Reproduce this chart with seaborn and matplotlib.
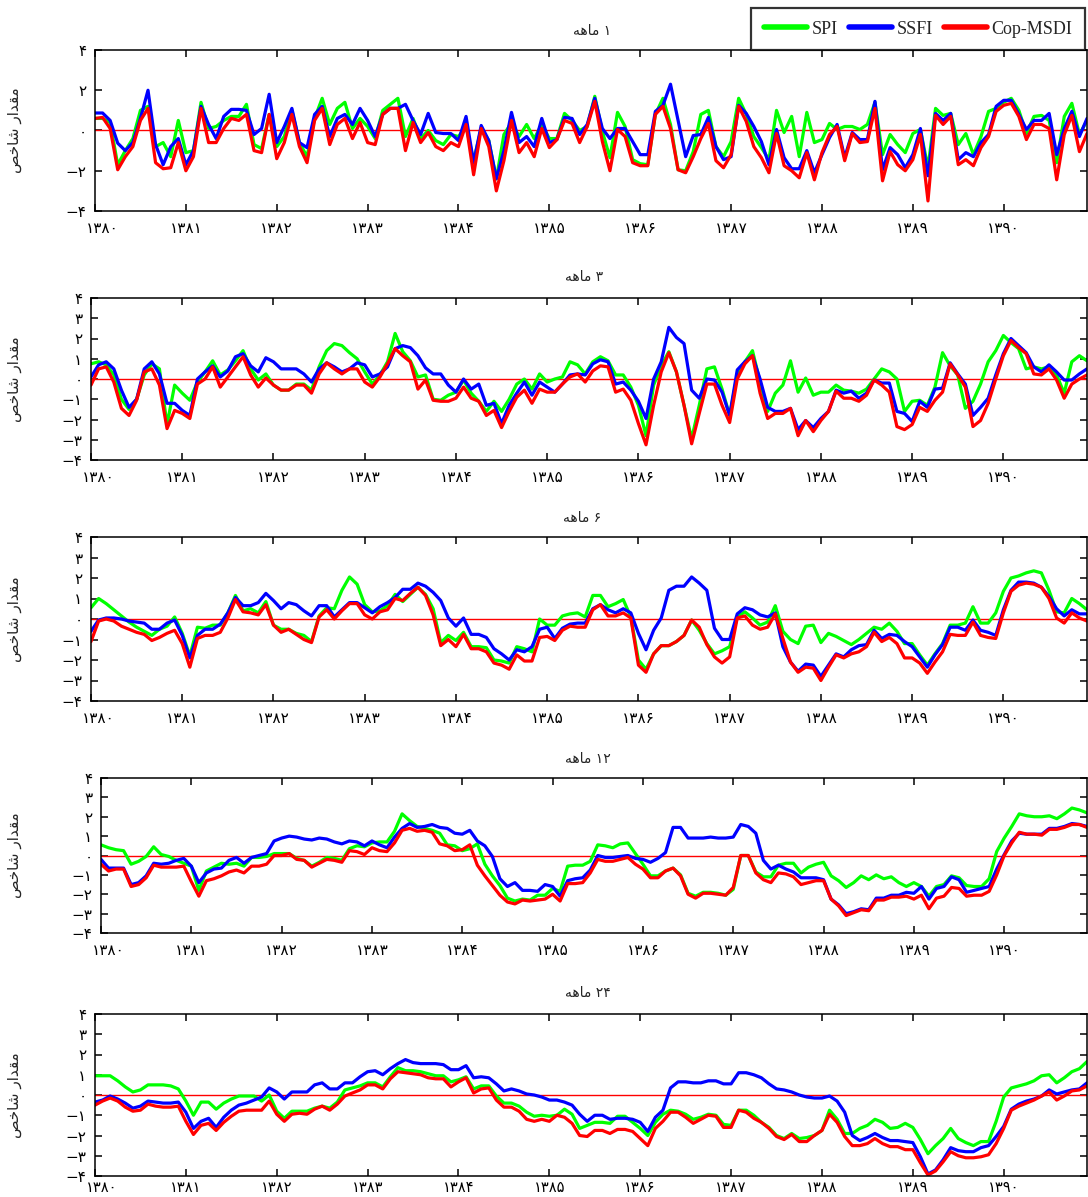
import matplotlib
matplotlib.use("Agg")
import matplotlib.pyplot as plt
from matplotlib.lines import Line2D
from matplotlib.transforms import ScaledTranslation
import numpy as np
import pandas as pd
import seaborn as sns

# ---------------- data (monthly, 1380/01 .. 1390/12 -> 132 values) ----------------
start_year = 1380
year_ticks = list(range(1380, 1391))
series_names = ["SPI", "SSFI", "Cop-MSDI"]
series_colors = ["#00ff00", "#0000ff", "#ff0000"]
panel_titles_num = ["۱", "۳", "۶", "۱۲", "۲۴"]

spi_1 = [0.6, 0.6, 0.4, -1.7, -1.0, -0.4, 1.0, 1.2, -0.8, -0.6,
         -1.3, 0.5, -1.1, -1.0, 1.4, 0.1, 0.2, 0.5, 0.7, 0.7,
         1.3, -0.7, -0.9, 0.8, -0.8, -0.3, 1.0, -0.6, -1.3, 0.6,
         1.6, 0.3, 1.1, 1.4, 0.1, 0.6, 0.2, -0.4, 1.0, 1.3,
         1.6, -0.3, 0.6, -0.4, 0.0, -0.5, -0.7, -0.2, -0.3, 0.2,
         -1.5, 0.1, -0.5, -2.4, -0.2, 0.4, -0.3, 0.3, -0.4, 0.3,
         -0.4, -0.4, 0.85, 0.5, 0.0, 0.2, 1.7, -0.05, -1.35, 0.9,
         0.2, -1.45, -1.65, -1.7, 0.8, 1.6, 0.3, -1.95, -2.0, -1.05,
         0.8, 1.0, -0.8, -1.3, -0.55, 1.6, 0.8, -0.3, -0.85, -1.45,
         1.0, -0.1, 0.7, -1.3, 0.9, -0.6, -0.45, 0.35,
         0.05, 0.2, 0.2, 0.05, 0.3, 1.4, -1.2, -0.2, -0.7, -1.1,
         -0.15, 0.05, -1.85, 1.1, 0.75, 0.85, -0.7, -0.15, -1.2, -0.3,
         0.95, 1.1, 1.4, 1.6, 1.0, -0.15, 0.7, 0.75, 0.5, -1.6,
         0.7, 1.35, -0.2, 0.5]
ssfi_1 = [0.87, 0.87, 0.5, -0.63, -1.0, -0.6, 0.6, 2.0, -0.7, -1.7,
          -0.8, -0.4, -1.7, -1.0, 1.2, 0.3, -0.4, 0.7, 1.05, 1.05,
          1.0, -0.2, 0.1, 1.8, -0.6, 0.2, 1.1, -0.6, -0.85, 0.8,
          1.2, -0.3, 0.6, 0.8, 0.3, 1.1, 0.5, -0.3, 0.8, 1.1,
          1.1, 1.3, 0.5, -0.2, 0.85, -0.1, -0.15, -0.15, -0.5, 0.7,
          -1.6, 0.25, -0.5, -2.4, -1.0, 0.9, -0.6, -0.3, -0.8, 0.6,
          -0.6, -0.45, 0.65, 0.6, -0.2, 0.3, 1.6, 0.1, -0.4, 0.1,
          0.1, -0.55, -1.2, -1.2, 0.95, 1.25, 2.3, 0.5, -1.3, -0.25,
          -0.2, 0.65, -0.8, -1.45, -1.3, 1.25, 0.85, 0.2, -0.55, -1.7,
          0.05, -1.35, -1.9, -1.9, -1.0, -2.1, -1.2, -0.35,
          0.3, -1.35, -0.1, -0.45, -0.45, 1.45, -1.95, -0.85, -1.2, -1.85,
          -1.2, 0.1, -2.25, 0.85, 0.5, 0.85, -1.45, -1.1, -1.3, -0.6,
          -0.2, 1.2, 1.5, 1.5, 0.8, 0.05, 0.5, 0.5, 0.85, -1.2,
          0.1, 0.95, -0.3, 0.6]
msdi_1 = [0.6, 0.65, 0.1, -1.95, -1.3, -0.8, 0.5, 1.1, -1.6, -1.9,
          -1.85, -0.6, -2.0, -1.3, 1.1, -0.6, -0.6, 0.1, 0.6, 0.5,
          0.8, -1.0, -1.1, 0.8, -1.4, -0.6, 0.8, -0.8, -1.6, 0.5,
          1.1, -0.7, 0.3, 0.6, -0.4, 0.4, -0.6, -0.7, 0.8, 1.1,
          1.1, -1.0, 0.4, -0.6, -0.1, -0.8, -1.0, -0.6, -0.8, 0.3,
          -2.2, 0.1, -0.8, -3.0, -1.5, 0.5, -1.1, -0.6, -1.3, 0.1,
          -0.85, -0.45, 0.5, 0.35, -0.6, 0.2, 1.45, -0.55, -2.0, 0.05,
          -0.3, -1.6, -1.75, -1.75, 0.8, 1.2, 0.1, -1.95, -2.1, -1.3,
          -0.4, 0.35, -1.5, -1.85, -1.2, 1.2, 0.45, -0.8, -1.35, -2.1,
          -0.15, -1.75, -2.0, -2.35, -1.1, -2.45, -1.1, -0.2,
          0.2, -1.5, -0.15, -0.6, -0.55, 1.1, -2.5, -1.05, -1.7, -2.0,
          -1.45, -0.2, -3.5, 0.75, 0.3, 0.7, -1.7, -1.45, -1.75, -0.85,
          -0.3, 0.95, 1.25, 1.35, 0.7, -0.45, 0.3, 0.3, 0.1, -2.45,
          -0.2, 0.75, -1.05, -0.15]

spi_3 = [0.75, 0.85, 0.7, 0.2, -1.0, -1.5, -1.0, 0.2, 0.75, 0.5,
         -2.25, -0.3, -0.7, -1.05, -0.15, 0.35, 0.9, 0.2, 0.45, 0.9,
         1.4, 0.5, -0.05, 0.25, -0.3, -0.55, -0.55, -0.25, -0.25, -0.55,
         0.6, 1.4, 1.75, 1.65, 1.3, 1.0, 0.35, -0.25, 0.2, 0.85,
         2.25, 1.35, 0.9, 0.1, 0.2, -1.0, -1.05, -0.8, -0.65, -0.05,
         -0.7, -1.1, -1.6, -1.1, -1.6, -1.0, -0.25, 0.0, -0.5, 0.25,
         -0.15, 0.0, 0.1, 0.85, 0.7, 0.25, 0.85, 1.1, 0.9, 0.2,
         0.2, -0.4, -1.3, -2.8, -0.3, 0.65, 1.35, 0.35, -1.3, -2.95,
         -1.3, 0.5, 0.6, -0.5, -1.8, 0.2, 0.85, 1.4, -0.15, -1.6,
         -0.7, -0.3, 0.9, -0.65, 0.05, -0.8, -0.65, -0.65, -0.3, -0.55,
         -0.6, -0.7, -0.5, 0.0, 0.5, 0.35, 0.0, -1.6, -1.1, -1.05,
         -1.3, -0.4, 1.3, 0.65, 0.2, -1.45, -1.1, -0.25, 0.85, 1.4,
         2.15, 1.8, 1.5, 0.5, 0.6, 0.5, 0.6, 0.2, -0.7, 0.85, 1.15, 0.9]
ssfi_3 = [0.1, 0.7, 0.85, 0.5, -0.55, -1.4, -1.0, 0.5, 0.85, 0.25,
          -1.2, -1.2, -1.55, -1.8, 0.0, 0.35, 0.65, 0.1, 0.4, 1.1,
          1.25, 0.65, 0.35, 1.05, 0.85, 0.5, 0.5, 0.5, 0.25, -0.15,
          0.5, 0.8, 0.6, 0.35, 0.5, 0.8, 0.7, 0.1, 0.25, 0.6,
          1.5, 1.65, 1.55, 1.15, 0.55, 0.25, 0.25, -0.3, -0.65, 0.0,
          -0.5, -0.25, -1.3, -1.2, -2.2, -1.3, -0.7, -0.15, -0.8, -0.15,
          -0.4, -0.65, -0.25, 0.2, 0.25, 0.2, 0.75, 0.95, 0.85, -0.25,
          -0.15, -0.55, -1.1, -1.95, 0.0, 0.85, 2.55, 2.05, 1.75, -0.55,
          -0.95, 0.0, -0.05, -0.65, -1.8, 0.45, 0.85, 1.15, 0.0, -1.4,
          -1.6, -1.6, -1.45, -2.5, -2.05, -2.4, -1.95, -1.6, -0.55, -0.7,
          -0.6, -0.95, -0.7, -0.05, -0.2, -0.2, -1.6, -1.7, -2.1, -1.1,
          -1.4, -0.5, -0.45, 0.8, 0.25, -0.25, -1.8, -1.4, -0.95, 0.2,
          1.25, 2.0, 1.65, 1.3, 0.6, 0.35, 0.7, 0.35, -0.05, -0.05, 0.25, 0.5]
msdi_3 = [-0.3, 0.5, 0.6, -0.15, -1.45, -1.8, -1.05, 0.35, 0.5, -0.3,
          -2.45, -1.55, -1.7, -1.95, -0.25, 0.0, 0.6, -0.4, 0.1, 0.6,
          1.1, 0.2, -0.4, 0.05, -0.3, -0.55, -0.55, -0.3, -0.3, -0.7,
          0.25, 0.8, 0.5, 0.25, 0.5, 0.5, -0.15, -0.4, 0.1, 0.75,
          1.5, 1.15, 0.85, -0.5, -0.05, -1.05, -1.1, -1.1, -0.95, -0.4,
          -0.95, -1.1, -1.8, -1.55, -2.4, -1.6, -0.9, -0.55, -1.2, -0.5,
          -0.65, -0.65, -0.25, 0.1, 0.25, -0.15, 0.4, 0.65, 0.6, -0.65,
          -0.5, -1.05, -2.2, -3.25, -1.3, 0.35, 1.3, 0.35, -1.3, -3.2,
          -1.7, -0.25, -0.25, -1.3, -2.15, 0.0, 0.75, 1.15, -0.7, -1.95,
          -1.7, -1.7, -1.45, -2.8, -2.05, -2.6, -2.05, -1.6, -0.6, -0.95,
          -0.95, -1.1, -0.8, -0.05, -0.3, -0.65, -2.35, -2.5, -2.25, -1.4,
          -1.6, -1.05, -0.65, 0.75, 0.2, -0.4, -2.35, -2.05, -1.2, 0.0,
          1.15, 1.9, 1.55, 1.25, 0.25, 0.2, 0.5, -0.05, -0.95, -0.25, 0.0, 0.2]

spi_6 = [0.55, 1.0, 0.75, 0.45, 0.15, -0.15, -0.4, -0.6, -0.8, -0.5,
         -0.35, 0.1, -0.7, -1.8, -0.4, -0.45, -0.3, -0.3, 0.3, 1.15,
         0.4, 0.5, 0.3, 0.85, -0.3, -0.5, -0.5, -0.7, -0.8, -1.1,
         0.15, 0.55, 0.5, 1.4, 2.05, 1.7, 0.7, 0.35, 0.4, 0.65,
         1.2, 0.85, 1.2, 1.55, 1.2, 0.5, -1.15, -0.8, -1.05, -0.65,
         -1.35, -1.35, -1.4, -2.0, -2.05, -2.15, -1.35, -1.45, -1.6, 0.0,
         -0.3, -0.3, 0.15, 0.25, 0.3, 0.1, 1.15, 1.15, 0.6, 0.75,
         0.95, 0.1, -2.0, -2.45, -1.7, -1.3, -1.3, -1.1, -0.8, -0.05,
         -0.55, -1.2, -1.7, -1.55, -1.35, 0.1, 0.35, 0.05, -0.3, -0.15,
         0.65, -0.6, -1.0, -1.2, -0.35, -0.3, -1.15, -0.7, -0.85, -1.05,
         -1.25, -1.0, -0.7, -0.4, -0.5, -0.2, -0.6, -1.2, -1.2, -1.75,
         -2.25, -1.7, -1.2, -0.3, -0.3, -0.2, 0.6, -0.2, -0.2, 0.3,
         1.35, 2.0, 2.1, 2.25, 2.35, 2.25, 1.4, 0.35, 0.3, 1.0, 0.75, 0.45]
ssfi_6 = [-0.6, -0.05, 0.05, 0.05, 0.0, -0.1, -0.15, -0.2, -0.5, -0.5,
          -0.2, -0.05, -0.8, -1.9, -0.8, -0.5, -0.5, -0.25, 0.3, 1.05,
          0.65, 0.65, 0.8, 1.25, 0.9, 0.5, 0.8, 0.7, 0.4, 0.15,
          0.65, 0.65, 0.1, 0.45, 0.8, 0.8, 0.55, 0.3, 0.6, 0.8,
          1.05, 1.45, 1.45, 1.75, 1.6, 1.3, 0.9, 0.05, -0.35, 0.05,
          -0.75, -0.75, -0.9, -1.45, -1.7, -2.0, -1.5, -1.6, -1.35, -0.5,
          -0.4, -0.95, -0.45, -0.25, -0.2, -0.2, 0.5, 0.7, 0.45, 0.3,
          0.5, 0.3, -0.7, -1.5, -0.55, 0.05, 1.4, 1.6, 1.6, 2.05,
          1.75, 1.4, -0.45, -1.0, -1.0, 0.25, 0.55, 0.45, 0.2, 0.1,
          0.3, -1.35, -2.1, -2.55, -2.2, -2.25, -2.8, -2.25, -1.7, -1.85,
          -1.5, -1.3, -1.25, -0.55, -0.95, -0.75, -0.8, -1.1, -1.35, -1.85,
          -2.35, -1.75, -1.25, -0.4, -0.4, -0.55, -0.05, -0.55, -0.65, -0.8,
          0.45, 1.4, 1.8, 1.8, 1.75, 1.55, 1.1, 0.5, 0.15, 0.45, 0.25, 0.25]
msdi_6 = [-1.1, -0.1, 0.0, -0.1, -0.35, -0.5, -0.65, -0.75, -1.05, -0.9,
          -0.7, -0.55, -1.2, -2.35, -0.95, -0.8, -0.8, -0.65, 0.05, 0.95,
          0.35, 0.3, 0.2, 0.7, -0.3, -0.65, -0.5, -0.75, -1.0, -1.15,
          0.1, 0.45, 0.0, 0.4, 0.75, 0.75, 0.2, 0.0, 0.35, 0.45,
          1.0, 0.9, 1.25, 1.55, 1.15, 0.2, -1.3, -1.0, -1.35, -0.75,
          -1.45, -1.45, -1.6, -2.15, -2.25, -2.45, -1.75, -2.05, -2.05, -0.9,
          -0.85, -1.05, -0.55, -0.35, -0.4, -0.4, 0.45, 0.7, 0.15, 0.15,
          0.3, 0.05, -2.25, -2.6, -1.7, -1.3, -1.3, -1.1, -0.8, -0.05,
          -0.4, -1.25, -1.85, -2.15, -1.85, 0.05, 0.15, -0.3, -0.5, -0.4,
          0.25, -0.95, -2.1, -2.6, -2.35, -2.4, -3.0, -2.35, -1.75, -1.9,
          -1.7, -1.6, -1.35, -0.65, -1.1, -0.9, -1.2, -1.9, -1.9, -2.15,
          -2.65, -2.1, -1.6, -0.75, -0.8, -0.8, -0.15, -0.8, -0.9, -0.95,
          0.3, 1.35, 1.65, 1.75, 1.7, 1.55, 1.0, 0.05, -0.2, 0.3, 0.05, -0.1]

spi_12 = [0.55, 0.4, 0.3, 0.25, -0.45, -0.3, -0.05, 0.45, 0.05, -0.05,
          -0.25, -0.4, -0.55, -1.8, -0.8, -0.6, -0.4, -0.45, -0.4, -0.55,
          -0.1, -0.1, -0.05, 0.1, 0.1, 0.1, -0.15, -0.25, -0.55, -0.35,
          -0.1, -0.15, -0.25, 0.35, 0.5, 0.45, 0.65, 0.7, 0.7, 1.25,
          2.15, 1.8, 1.5, 1.4, 1.3, 1.15, 0.55, 0.5, 0.25, 0.35,
          0.6, -0.45, -1.05, -1.55, -2.2, -2.35, -2.25, -2.3, -2.05, -2.05,
          -1.7, -1.85, -0.55, -0.5, -0.5, -0.3, 0.55, 0.5, 0.4, 0.6,
          0.65, 0.1, -0.45, -1.05, -1.05, -0.8, -0.65, -1.0, -1.95, -2.1,
          -1.9, -1.9, -1.95, -2.05, -1.75, 0.0, 0.0, -0.85, -1.1, -1.1,
          -0.5, -0.4, -0.4, -0.9, -0.6, -0.45, -0.35, -1.05, -1.3, -1.65,
          -1.4, -1.05, -1.25, -1.0, -1.2, -1.1, -1.4, -1.6, -1.4, -1.6,
          -2.1, -1.6, -1.5, -1.05, -1.15, -1.55, -1.6, -1.6, -1.2, 0.2,
          0.9, 1.5, 2.15, 2.05, 2.0, 2.0, 2.05, 1.9, 2.15, 2.45, 2.35, 2.2]
ssfi_12 = [-0.2, -0.65, -0.65, -0.65, -1.5, -1.4, -1.05, -0.4, -0.45, -0.4,
           -0.25, -0.15, -0.55, -1.4, -0.9, -0.7, -0.65, -0.25, -0.1, -0.4,
           -0.1, 0.0, 0.1, 0.75, 0.9, 1.0, 0.95, 0.85, 0.8, 0.9,
           0.85, 0.7, 0.6, 0.75, 0.7, 0.5, 0.75, 0.55, 0.4, 0.95,
           1.4, 1.65, 1.45, 1.5, 1.6, 1.45, 1.4, 1.15, 1.1, 1.3,
           0.75, 0.5, -0.05, -1.2, -1.6, -1.4, -1.8, -1.8, -1.85, -1.5,
           -1.6, -2.1, -1.3, -1.2, -1.15, -0.75, 0.0, -0.1, -0.1, -0.05,
           0.0, -0.15, -0.2, -0.35, -0.15, 0.15, 1.45, 1.45, 0.9, 0.9,
           0.9, 0.95, 0.9, 0.9, 0.95, 1.6, 1.5, 1.15, -0.25, -0.7,
           -0.5, -0.7, -0.85, -1.15, -1.15, -1.15, -1.25, -2.25, -2.55, -3.0,
           -2.9, -2.75, -2.8, -2.2, -2.2, -2.05, -2.05, -1.9, -1.95, -1.6,
           -2.25, -1.7, -1.6, -1.1, -1.25, -1.9, -1.8, -1.7, -1.6, -0.7,
           0.05, 0.75, 1.15, 1.1, 1.1, 1.1, 1.4, 1.4, 1.5, 1.65, 1.6, 1.5]
msdi_12 = [-0.45, -0.8, -0.7, -0.7, -1.6, -1.5, -1.15, -0.5, -0.6, -0.6,
           -0.6, -0.55, -1.35, -2.1, -1.3, -1.2, -1.05, -0.85, -0.75, -0.9,
           -0.55, -0.55, -0.45, 0.0, 0.0, 0.1, -0.2, -0.25, -0.6, -0.4,
           -0.2, -0.25, -0.35, 0.25, 0.2, 0.05, 0.4, 0.25, 0.2, 0.65,
           1.3, 1.4, 1.25, 1.3, 1.2, 0.6, 0.5, 0.25, 0.3, 0.55,
           -0.5, -1.05, -1.55, -2.05, -2.4, -2.5, -2.3, -2.35, -2.3, -2.25,
           -2.0, -2.35, -1.45, -1.45, -1.4, -0.9, -0.2, -0.3, -0.3, -0.2,
           -0.1, -0.45, -0.7, -1.15, -1.15, -0.8, -0.65, -1.05, -2.0, -2.2,
           -1.95, -1.95, -2.0, -2.05, -1.65, 0.0, 0.0, -0.9, -1.25, -1.4,
           -0.9, -0.95, -1.1, -1.5, -1.4, -1.3, -1.3, -2.25, -2.6, -3.1,
           -2.95, -2.8, -2.85, -2.3, -2.3, -2.15, -2.15, -2.1, -2.25, -2.05,
           -2.75, -2.2, -2.1, -1.65, -1.7, -2.1, -2.05, -2.05, -1.85, -1.0,
           0.0, 0.65, 1.2, 1.1, 1.1, 1.05, 1.35, 1.35, 1.45, 1.6, 1.6, 1.45]

spi_24 = [0.95, 0.95, 0.95, 0.7, 0.4, 0.15, 0.25, 0.5, 0.5, 0.5,
          0.45, 0.3, -0.3, -1.0, -0.35, -0.35, -0.7, -0.4, -0.2, -0.05,
          -0.05, -0.05, -0.3, 0.0, -0.8, -1.15, -0.8, -0.8, -0.8, -0.65,
          -0.55, -0.65, -0.35, 0.25, 0.35, 0.45, 0.6, 0.6, 0.4, 0.9,
          1.35, 1.2, 1.2, 1.15, 1.05, 0.95, 0.95, 0.65, 0.75, 0.9,
          0.3, 0.45, 0.45, -0.05, -0.4, -0.4, -0.55, -0.85, -1.05, -1.0,
          -1.05, -1.0, -0.7, -0.95, -1.65, -1.5, -1.35, -1.35, -1.4, -1.05,
          -1.05, -1.35, -1.65, -2.0, -1.35, -0.95, -0.75, -0.8, -0.95, -1.2,
          -1.1, -0.95, -1.0, -1.45, -1.5, -0.75, -0.75, -1.0, -1.35, -1.6,
          -2.0, -2.15, -1.9, -2.15, -2.1, -2.0, -1.75, -0.75, -1.2, -1.9,
          -1.9, -1.65, -1.5, -1.2, -1.35, -1.65, -1.6, -1.4, -1.6, -2.2,
          -2.9, -2.5, -2.15, -1.65, -2.15, -2.35, -2.5, -2.3, -2.3, -1.3,
          -0.1, 0.35, 0.45, 0.55, 0.7, 0.95, 1.0, 0.6, 0.85, 1.15, 1.3, 1.65]
ssfi_24 = [-0.35, -0.25, -0.05, -0.2, -0.4, -0.65, -0.55, -0.3, -0.35, -0.4,
           -0.4, -0.35, -0.85, -1.65, -1.3, -1.15, -1.6, -1.1, -0.75, -0.5,
           -0.4, -0.25, -0.1, 0.35, 0.15, -0.2, 0.15, 0.15, 0.15, 0.5,
           0.6, 0.3, 0.3, 0.6, 0.6, 0.9, 1.15, 1.2, 1.0, 1.3,
           1.55, 1.75, 1.6, 1.55, 1.55, 1.55, 1.5, 1.25, 1.25, 1.45,
           0.85, 0.9, 0.85, 0.55, 0.2, 0.3, 0.2, 0.05, 0.0, -0.1,
           -0.25, -0.25, -0.35, -0.5, -0.95, -1.3, -1.0, -1.0, -1.2, -1.15,
           -1.15, -1.2, -1.35, -1.8, -1.1, -0.75, 0.35, 0.65, 0.65, 0.6,
           0.6, 0.7, 0.7, 0.55, 0.55, 1.1, 1.1, 1.0, 0.85, 0.55,
           0.3, 0.25, 0.15, 0.0, -0.1, -0.15, -0.15, -0.05, -0.3, -0.85,
           -2.0, -2.25, -2.1, -1.9, -2.1, -2.25, -2.25, -2.3, -2.35, -3.05,
           -3.9, -3.7, -3.2, -2.6, -2.75, -2.8, -2.8, -2.6, -2.5, -2.05,
           -1.55, -0.7, -0.45, -0.3, -0.2, -0.05, 0.25, 0.05, 0.15, 0.25, 0.3, 0.6]
msdi_24 = [-0.5, -0.3, -0.15, -0.3, -0.6, -0.8, -0.75, -0.45, -0.55, -0.6,
           -0.6, -0.55, -1.3, -1.95, -1.5, -1.4, -1.75, -1.35, -1.05, -0.8,
           -0.75, -0.75, -0.75, -0.3, -0.95, -1.3, -0.95, -0.9, -0.95, -0.7,
           -0.55, -0.75, -0.45, -0.05, 0.1, 0.25, 0.5, 0.5, 0.3, 0.8,
           1.15, 1.1, 1.05, 1.0, 0.85, 0.8, 0.8, 0.4, 0.65, 0.85,
           0.1, 0.3, 0.35, -0.25, -0.6, -0.6, -0.8, -1.2, -1.3, -1.2,
           -1.3, -1.0, -1.1, -1.4, -2.0, -2.05, -1.75, -1.75, -1.9, -1.7,
           -1.7, -1.8, -2.15, -2.5, -1.65, -1.3, -0.85, -0.85, -1.1, -1.4,
           -1.2, -1.0, -1.05, -1.6, -1.6, -0.75, -0.85, -1.15, -1.35, -1.65,
           -2.05, -2.2, -1.95, -2.3, -2.3, -2.0, -1.75, -0.95, -1.35, -2.05,
           -2.5, -2.5, -2.4, -2.15, -2.4, -2.55, -2.55, -2.7, -2.7, -3.35,
           -3.95, -3.75, -3.3, -2.8, -3.0, -3.1, -3.1, -3.05, -2.95, -2.4,
           -1.65, -0.75, -0.55, -0.4, -0.25, -0.05, 0.15, -0.25, -0.05, 0.2, 0.25, 0.45]

panels = [
    (spi_1, ssfi_1, msdi_1, [4, 2, 0, -2, -4]),
    (spi_3, ssfi_3, msdi_3, [4, 3, 2, 1, 0, -1, -2, -3, -4]),
    (spi_6, ssfi_6, msdi_6, [4, 3, 2, 1, 0, -1, -2, -3, -4]),
    (spi_12, ssfi_12, msdi_12, [4, 3, 2, 1, 0, -1, -2, -3, -4]),
    (spi_24, ssfi_24, msdi_24, [4, 3, 2, 1, 0, -1, -2, -3, -4]),
]

# ---------------- helpers ----------------
FA_DIGITS = str.maketrans("0123456789-", "۰۱۲۳۴۵۶۷۸۹−")


def fa(n):
    return str(n).translate(FA_DIGITS)


# Persian words already in visual (left-to-right) order with joined letter forms
WORD_MAHEH = "\ufeea\ufeeb\ufe8e\ufee3"                      # ماهه
YLABEL = "\ufeba\ufea7\ufe8e\ufeb7 \ufead\ufe8d\ufeaa\ufed8\ufee3"  # مقدار شاخص

# ---------------- figure ----------------
sns.set_style("ticks")
plt.rcParams["font.family"] = ["DejaVu Sans"]
plt.rcParams["axes.linewidth"] = 1.1

W, H = 1088, 1197
fig = plt.figure(figsize=(W / 100, H / 100), dpi=100)

# (left, right, top, bottom) in pixels
boxes = [(95, 1087, 50, 211), (91, 1087, 298, 460), (91, 1087, 537, 701),
         (101, 1087, 778, 933), (95, 1087, 1014, 1176)]
title_pos = [(592, 31), (584, 277), (582, 518), (588, 759), (588, 993)]

x_years = start_year + np.arange(132) / 12.0
palette = dict(zip(series_names, series_colors))

for k, ((spi, ssfi, msdi, yt), (l, r, t, b)) in enumerate(zip(panels, boxes)):
    ax = fig.add_axes([l / W, 1 - b / H, (r - l) / W, (b - t) / H])
    df = pd.DataFrame({
        "year": np.concatenate([x_years] * 3),
        "value": np.concatenate([spi, ssfi, msdi]),
        "series": np.repeat(series_names, 132),
    })
    ax.axhline(0, color="#ff0000", lw=1.0, zorder=1)
    sns.lineplot(data=df, x="year", y="value", hue="series", hue_order=series_names,
                 palette=palette, linewidth=2.3, estimator=None, sort=False,
                 legend=False, ax=ax, zorder=2)
    ax.set_xlim(start_year, start_year + 131 / 12.0)
    ax.set_ylim(-4, 4)
    ax.set_xticks(year_ticks)
    ax.set_xticklabels([fa(y) for y in year_ticks])
    ax.set_yticks(yt)
    ax.set_yticklabels([fa(v) for v in yt])
    ax.set_xlabel("")
    ax.set_ylabel("")
    ax.tick_params(axis="both", direction="in", top=True, right=True,
                   length=5, width=1.1, labelsize=11, colors="black")
    if k == 4:
        ax.tick_params(axis="x", pad=3, labelsize=10.5)
    else:
        ax.tick_params(axis="x", pad=7)
    ax.tick_params(axis="y", pad=6)
    # first year label sits a little right of its tick, as in the original
    first = ax.get_xticklabels()[0]
    first.set_transform(first.get_transform() +
                        ScaledTranslation(7 / 100, 0, fig.dpi_scale_trans))
    for s in ax.spines.values():
        s.set_color("black")
    tx, ty = title_pos[k]
    # visual (left-to-right) order: word on the left, number on the right
    fig.text(tx / W, 1 - ty / H, WORD_MAHEH + " " + panel_titles_num[k],
             ha="center", va="center", fontsize=10)
    fig.text(15 / W, 1 - ((t + b) / 2) / H, YLABEL, rotation=90,
             ha="center", va="center", fontsize=11)

handles = [Line2D([0], [0], color=c, lw=4.0) for c in series_colors]
leg = fig.legend(handles, series_names, loc="upper right",
                 bbox_to_anchor=(1085 / W, 1 - 8 / H), ncol=3, frameon=True,
                 fancybox=False, borderaxespad=0, handlelength=2.4,
                 handletextpad=0.25, columnspacing=0.6, borderpad=0.7,
                 prop={"family": "Liberation Serif", "size": 13})
leg.get_frame().set_edgecolor("black")
leg.get_frame().set_linewidth(1.6)

fig.savefig("out.png", dpi=100)
